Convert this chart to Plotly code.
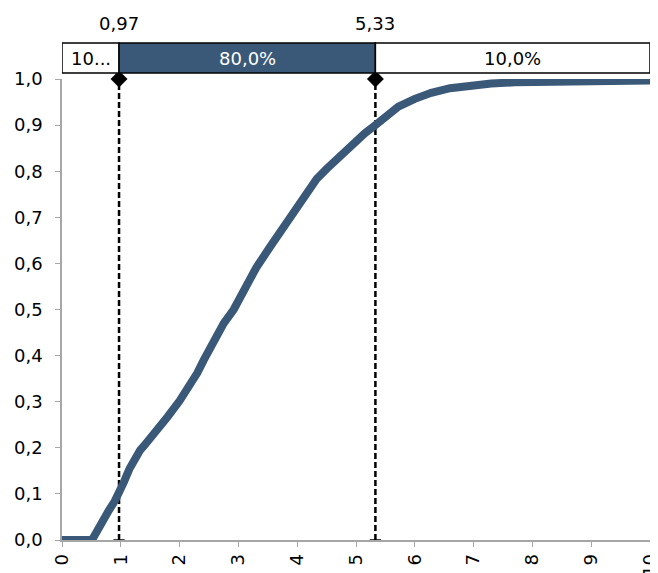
import plotly.graph_objects as go

cdf_x = [0.0, 0.51, 0.6, 0.7, 0.8, 0.9, 0.97, 1.05, 1.15, 1.25, 1.33, 1.4, 1.5, 1.67, 1.8,
         2.0, 2.15, 2.24, 2.3, 2.41, 2.5, 2.64, 2.75, 2.92, 3.04, 3.2, 3.3, 3.54, 3.82,
         4.02, 4.1, 4.33, 4.5, 4.67, 4.85, 5.01, 5.15, 5.33, 5.5, 5.72, 6.0,
         6.28, 6.6, 6.96, 7.3, 7.7, 8.55, 10.0]
cdf_y = [0.0, 0.0, 0.02, 0.045, 0.065, 0.085, 0.10, 0.125, 0.155, 0.18, 0.195, 0.205, 0.22,
         0.245, 0.268, 0.302, 0.33, 0.347, 0.362, 0.39, 0.41, 0.449, 0.47, 0.50, 0.53, 0.565,
         0.59, 0.636, 0.687, 0.727, 0.745, 0.783, 0.805, 0.826, 0.846, 0.866, 0.882,
         0.90, 0.92, 0.94, 0.957, 0.97, 0.98, 0.987, 0.99, 0.993, 0.996, 0.997]

# Percentile markers and band labels
bounds = [0.97, 5.33]
bound_labels = ["0,97", "5,33"]
band_labels = ["10...", "80,0%", "10,0%"]
x_min, x_max = 0, 10
x_ticks = list(range(0, 11))
y_ticks = [round(i * 0.1, 1) for i in range(11)]

BLUE = "#3a5878"
FONT = "DejaVu Sans"
FS = 18

fig = go.Figure()

# dashed vertical lines
for b in bounds:
    fig.add_trace(go.Scatter(x=[b, b], y=[0, 1], mode="lines",
                             line=dict(color="black", width=2.5, dash="6px,3px"),
                             showlegend=False, hoverinfo="skip"))

fig.add_trace(go.Scatter(x=cdf_x, y=cdf_y, mode="lines",
                         line=dict(color=BLUE, width=8), showlegend=False,
                         cliponaxis=False))

fig.add_trace(go.Scatter(x=bounds, y=[1, 1], mode="markers",
                         marker=dict(symbol="diamond", size=13, color="black"),
                         showlegend=False, cliponaxis=False))
fig.add_trace(go.Scatter(x=bounds, y=[0, 0], mode="markers",
                         marker=dict(symbol="line-ew", size=8,
                                     line=dict(color="black", width=1.5)),
                         showlegend=False, cliponaxis=False))

# band above plot
edges = [x_min] + bounds + [x_max]
fills = ["white", BLUE, "white"]
txtcol = ["black", "white", "black"]
y0b, y1b = 1.013, 1.078
for i in range(3):
    fig.add_shape(type="rect", xref="x", yref="paper", x0=edges[i], x1=edges[i + 1],
                  y0=y0b, y1=y1b, fillcolor=fills[i], line=dict(color="black", width=1.5))
    fig.add_annotation(x=(edges[i] + edges[i + 1]) / 2, y=(y0b + y1b) / 2, xref="x",
                       yref="paper", text=band_labels[i], showarrow=False,
                       xanchor="center", yanchor="middle",
                       font=dict(family=FONT, size=FS, color=txtcol[i]))
for b, lab in zip(bounds, bound_labels):
    fig.add_annotation(x=b, y=1.12, xref="x", yref="paper", text=lab, showarrow=False,
                       xanchor="center", yanchor="middle",
                       font=dict(family=FONT, size=FS, color="black"))

axis_common = dict(showgrid=False, zeroline=False, showline=True, linecolor="#a6a6a6",
                   linewidth=1.5, ticks="outside", ticklen=5, tickcolor="#a6a6a6",
                   tickfont=dict(family=FONT, size=FS, color="black"))

fig.update_xaxes(range=[x_min, x_max], tickvals=x_ticks, tickangle=-90, automargin=False,
                 ticklabeloverflow="allow", **axis_common)
fig.update_yaxes(range=[0, 1], tickvals=y_ticks, tickformat=".1f", automargin=False,
                 ticklabelstandoff=9, **axis_common)

# page body has an 8px margin: compensate so the plot lands where the reference has it
fig.update_layout(width=650, height=565, margin=dict(l=54, r=8, t=71, b=33),
                  plot_bgcolor="white", paper_bgcolor="white", separators=", ",
                  font=dict(family=FONT, size=FS, color="black"))

fig.write_html("out.html")
